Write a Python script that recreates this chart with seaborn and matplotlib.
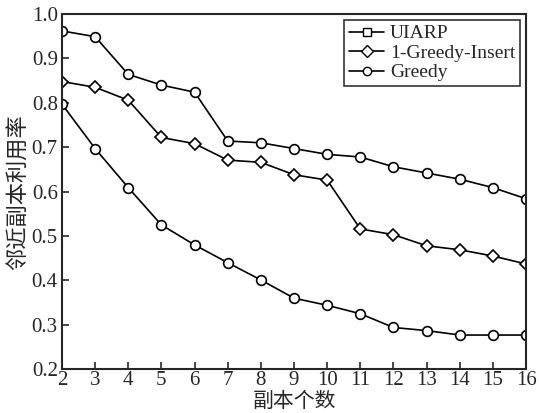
import pandas as pd
import seaborn as sns
import matplotlib.pyplot as plt
from matplotlib.lines import Line2D

# Data
replicas = list(range(2, 17))
uiarp = [0.962, 0.949, 0.864, 0.840, 0.824, 0.714, 0.710, 0.697, 0.684, 0.678,
         0.656, 0.642, 0.628, 0.609, 0.584]
greedy_insert = [0.848, 0.835, 0.806, 0.722, 0.708, 0.671, 0.666, 0.638, 0.626, 0.516,
                 0.503, 0.478, 0.469, 0.455, 0.437]
greedy = [0.797, 0.697, 0.609, 0.525, 0.480, 0.440, 0.401, 0.360, 0.344, 0.325,
          0.294, 0.287, 0.277, 0.277, 0.277]
labels = ["UIARP", "1-Greedy-Insert", "Greedy"]
plot_markers = ["o", "D", "o"]    # markers as drawn on the lines
legend_markers = ["s", "D", "o"]  # markers as shown in the legend

sns.set_style("ticks")
plt.rcParams["font.family"] = ["Liberation Serif", "Noto Sans CJK SC"]
plt.rcParams["xtick.direction"] = "in"
plt.rcParams["ytick.direction"] = "in"

fig = plt.figure(figsize=(5.39, 4.13), dpi=100)
ax = fig.add_axes([0.115, 0.106, 0.861, 0.86])

for vals, lab, mk in zip([uiarp, greedy_insert, greedy], labels, plot_markers):
    df = pd.DataFrame({"x": replicas, "y": vals})
    sns.lineplot(data=df, x="x", y="y", ax=ax, color="black", linewidth=1.2,
                 marker=mk, markersize=7 if mk == "o" else 6,
                 markerfacecolor="white", markeredgecolor="black",
                 markeredgewidth=1.2, legend=False)

ax.set_xlim(2, 16)
ax.set_ylim(0.2, 1.0)
ax.set_xticks(replicas)
ax.set_yticks([0.2, 0.3, 0.4, 0.5, 0.6, 0.7, 0.8, 0.9, 1.0])
ax.set_yticklabels(["0.2", "0.3", "0.4", "0.5", "0.6", "0.7", "0.8", "0.9", "1.0"])
ax.tick_params(labelsize=15, length=5, width=1.2)
ax.tick_params(axis="x", pad=1)
ax.tick_params(axis="y", pad=3)
for s in ax.spines.values():
    s.set_visible(True)
    s.set_linewidth(1.5)

ax.set_xlabel("副本个数", fontsize=15, family="Noto Sans CJK SC", labelpad=0)
ax.set_ylabel("邻近副本利用率", fontsize=16, family="Noto Sans CJK SC", labelpad=1)

handles = [Line2D([0], [0], color="black", linewidth=1.2, marker=m,
                  markersize=6, markerfacecolor="white", markeredgecolor="black")
           for m in legend_markers]
leg = ax.legend(handles, labels, loc="upper right", fontsize=14, frameon=True,
                fancybox=False, edgecolor="black", borderaxespad=0.3,
                handlelength=1.8, handletextpad=0.3, borderpad=0.25,
                labelspacing=0.1)
leg.get_frame().set_linewidth(1.2)

fig.savefig("out.png", dpi=100)
